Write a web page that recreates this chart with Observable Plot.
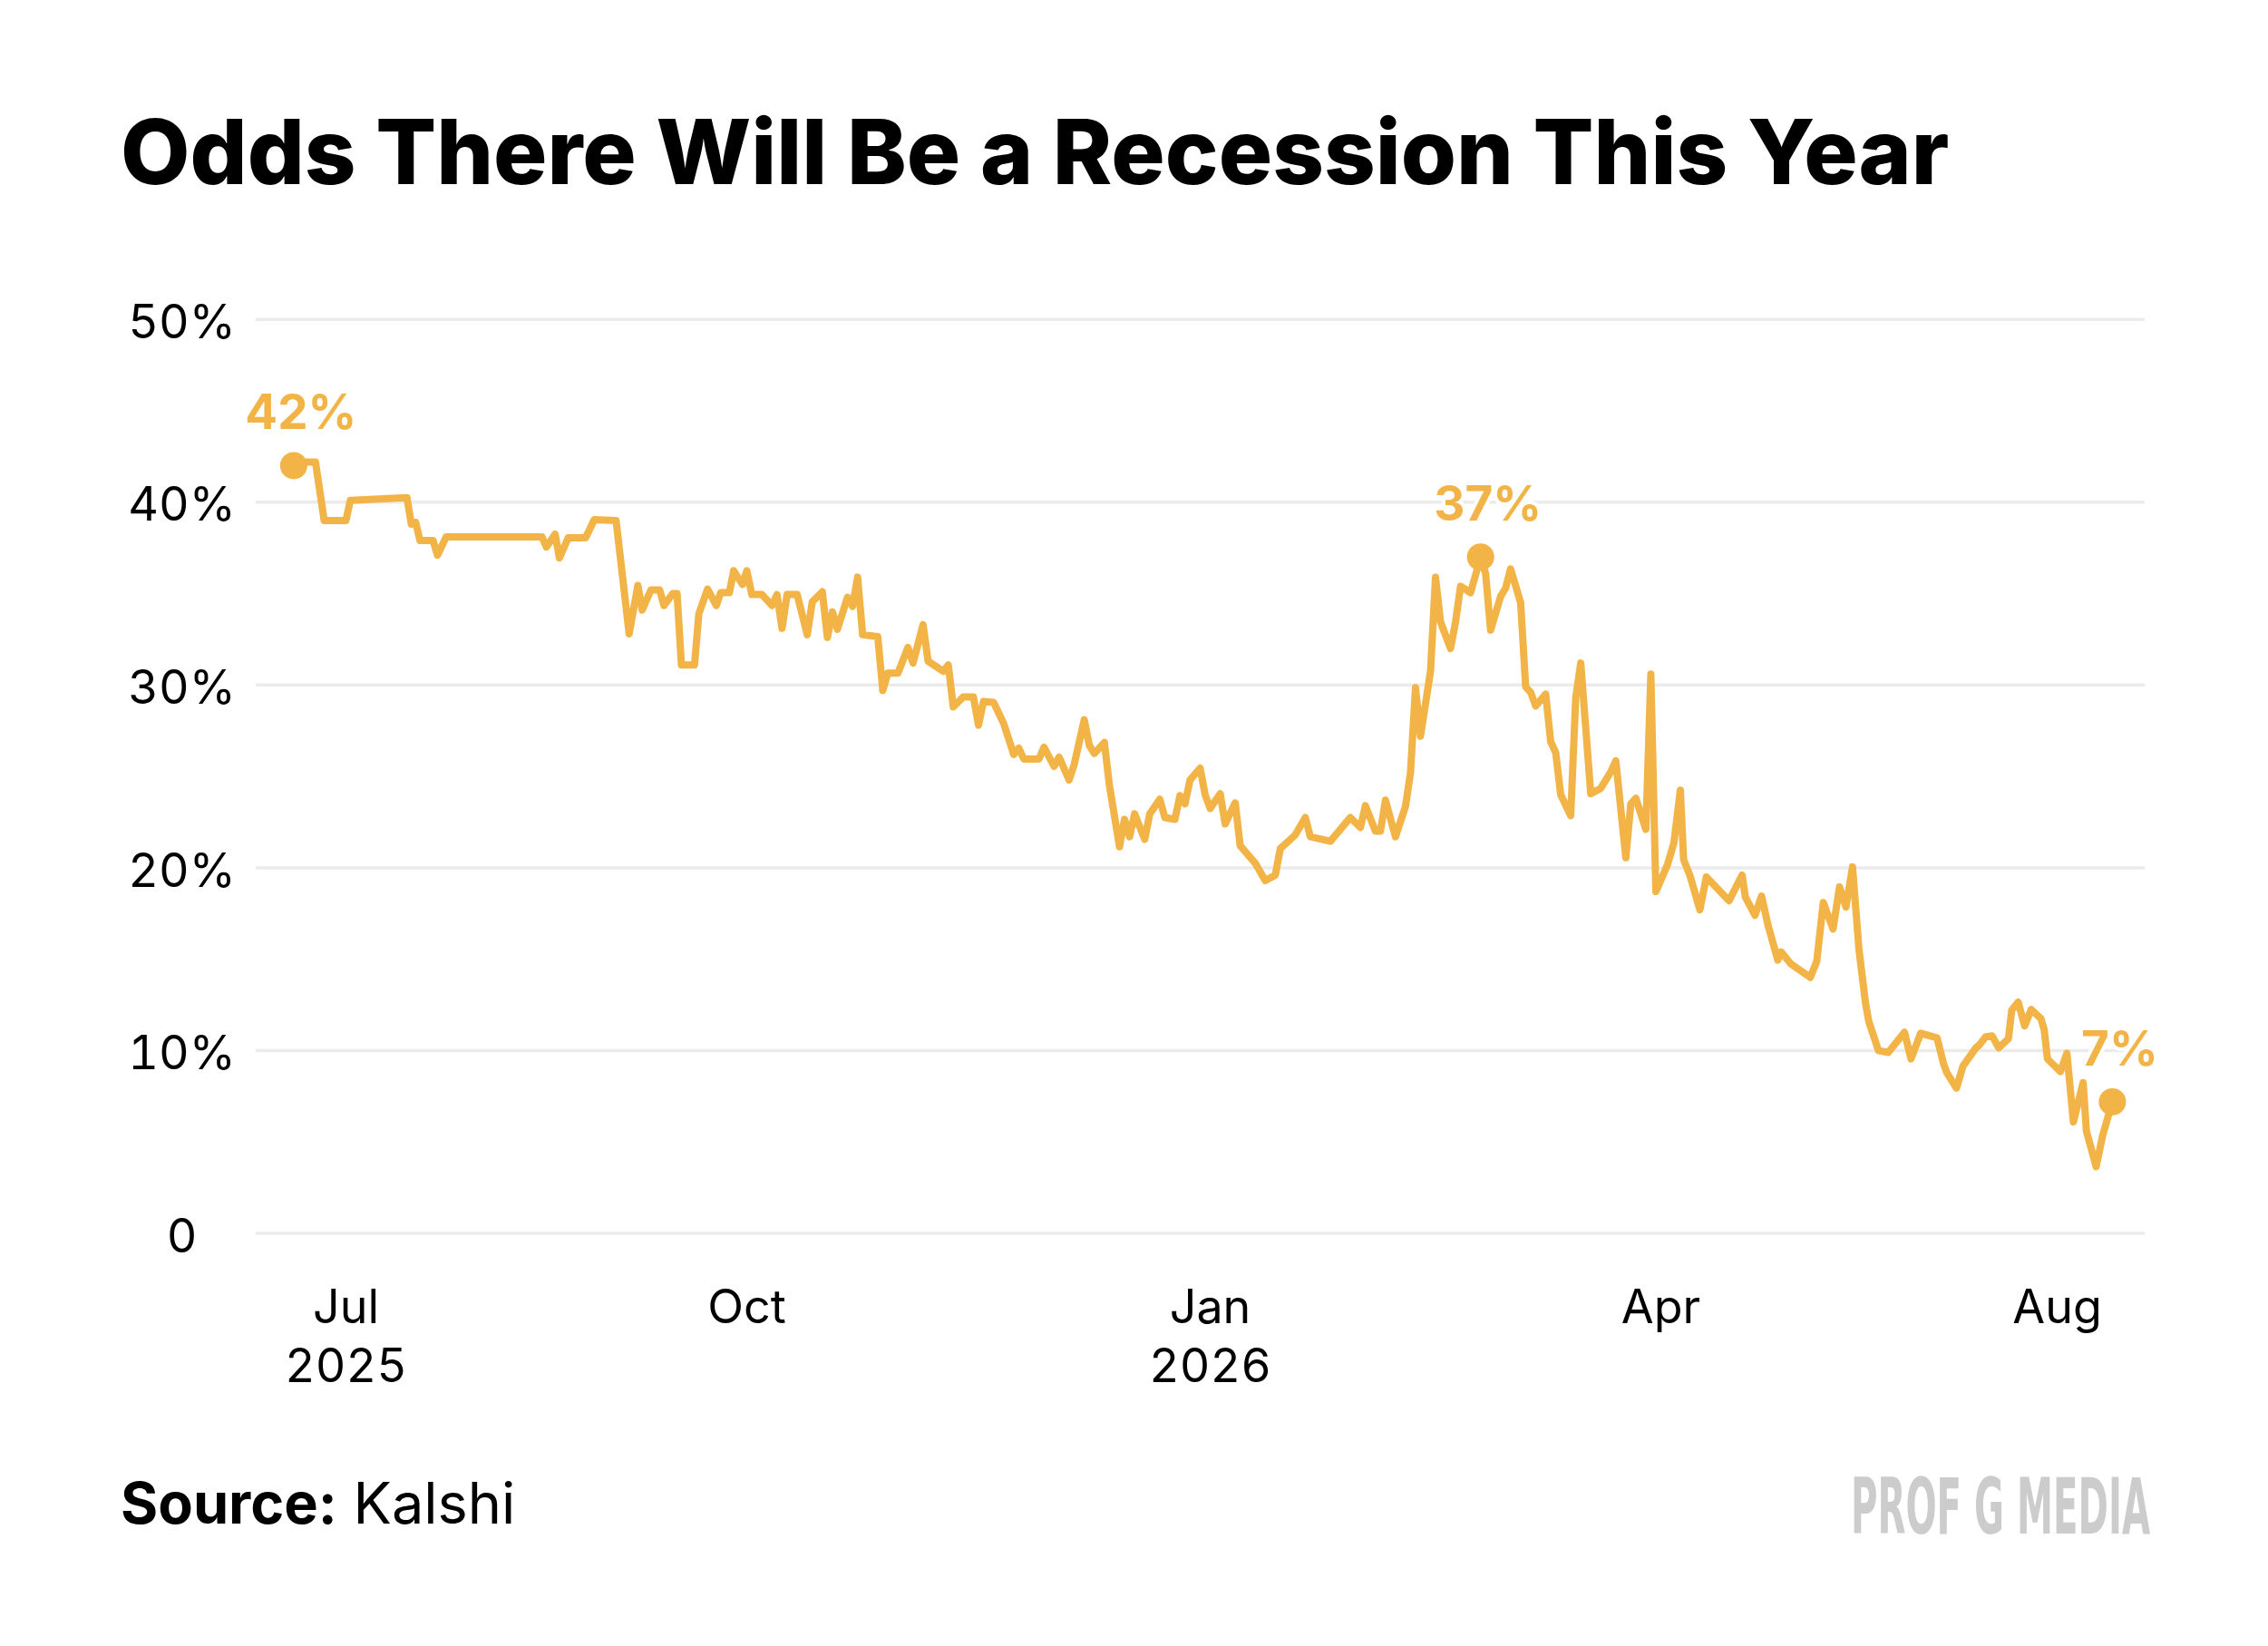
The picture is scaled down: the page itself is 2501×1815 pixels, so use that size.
<!DOCTYPE html>
<html>
<head>
<meta charset="utf-8">
<script src="https://cdn.jsdelivr.net/npm/d3@7"></script>
<script src="https://cdn.jsdelivr.net/npm/@observablehq/plot@0.6"></script>
<style>
  html, body { margin: 0; padding: 0; background: #ffffff; }
  #page { position: relative; width: 2501px; height: 1815px; overflow: hidden; font-family: Inter, "Noto Sans", sans-serif; background: #fff; }
  #title { position: absolute; left: 133px; top: 118px; margin: 0; font-size: 99px; font-weight: 800; line-height: 1; color: #000; white-space: nowrap; }
  #chart { position: absolute; left: 0; top: 260px; }
  #source { position: absolute; left: 133px; top: 1626px; font-size: 63px; line-height: 1; color: #000; white-space: nowrap; }
  #source b { font-weight: 700; }
  #logo { position: absolute; right: 130px; top: 1618px; font-family: "Liberation Sans Narrow", "DejaVu Sans Condensed", sans-serif; font-weight: 700; font-size: 86px; line-height: 1; color: #cccccc; white-space: nowrap; transform-origin: right center; }
</style>
</head>
<body>
<div id="page">
  <h1 id="title">Odds There Will Be a Recession This Year</h1>
  <div id="chart"></div>
  <div id="source"><b>Source:</b> Kalshi</div>
  <div id="logo">PROF G MEDIA</div>
</div>
<script>
// ---- data ----
const dates = [
  "2025-06-19","2025-06-22","2025-06-24","2025-06-26","2025-07-01","2025-07-02","2025-07-15","2025-07-16",
  "2025-07-17","2025-07-18","2025-07-21","2025-07-22","2025-07-24","2025-08-15","2025-08-16","2025-08-18",
  "2025-08-19","2025-08-21","2025-08-25","2025-08-27","2025-09-01","2025-09-04","2025-09-06","2025-09-07",
  "2025-09-09","2025-09-11","2025-09-12","2025-09-14","2025-09-15","2025-09-16","2025-09-19","2025-09-20",
  "2025-09-22","2025-09-24","2025-09-25","2025-09-27","2025-09-28","2025-09-30","2025-10-01","2025-10-02",
  "2025-10-04","2025-10-06","2025-10-07","2025-10-08","2025-10-09","2025-10-11","2025-10-13","2025-10-14",
  "2025-10-16","2025-10-17","2025-10-18","2025-10-19","2025-10-21","2025-10-22","2025-10-23","2025-10-24",
  "2025-10-27","2025-10-28","2025-10-29","2025-10-31","2025-11-02","2025-11-03","2025-11-05","2025-11-06",
  "2025-11-09","2025-11-10","2025-11-11","2025-11-13","2025-11-15","2025-11-16","2025-11-17","2025-11-19",
  "2025-11-21","2025-11-23","2025-11-24","2025-11-25","2025-11-28","2025-11-29","2025-12-01","2025-12-02",
  "2025-12-04","2025-12-05","2025-12-07","2025-12-08","2025-12-09","2025-12-11","2025-12-12","2025-12-14",
  "2025-12-15","2025-12-16","2025-12-17","2025-12-19","2025-12-20","2025-12-22","2025-12-23","2025-12-25",
  "2025-12-26","2025-12-27","2025-12-28","2025-12-30","2025-12-31","2026-01-01","2026-01-03","2026-01-04",
  "2026-01-06","2026-01-07","2026-01-10","2026-01-12","2026-01-14","2026-01-15","2026-01-18","2026-01-20",
  "2026-01-21","2026-01-25","2026-01-29","2026-01-31","2026-02-01","2026-02-03","2026-02-04","2026-02-05",
  "2026-02-07","2026-02-09","2026-02-10","2026-02-11","2026-02-12","2026-02-14","2026-02-15","2026-02-16",
  "2026-02-18","2026-02-19","2026-02-20","2026-02-22","2026-02-24","2026-02-25","2026-02-26","2026-02-28",
  "2026-03-01","2026-03-02","2026-03-04","2026-03-05","2026-03-06","2026-03-07","2026-03-09","2026-03-10",
  "2026-03-11","2026-03-12","2026-03-14","2026-03-15","2026-03-16","2026-03-18","2026-03-20","2026-03-22",
  "2026-03-23","2026-03-25","2026-03-26","2026-03-27","2026-03-29","2026-03-30","2026-03-31","2026-04-03",
  "2026-04-05","2026-04-07","2026-04-08","2026-04-10","2026-04-13","2026-04-15","2026-04-22","2026-04-26",
  "2026-04-27","2026-04-30","2026-05-02","2026-05-04","2026-05-07","2026-05-08","2026-05-11","2026-05-17",
  "2026-05-19","2026-05-21","2026-05-24","2026-05-26","2026-05-28","2026-05-30","2026-06-01","2026-06-03",
  "2026-06-04","2026-06-07","2026-06-10","2026-06-15","2026-06-17","2026-06-20","2026-06-25","2026-06-27",
  "2026-06-28","2026-07-01","2026-07-03","2026-07-07","2026-07-08","2026-07-10","2026-07-12","2026-07-14",
  "2026-07-17","2026-07-18","2026-07-20","2026-07-22","2026-07-24","2026-07-27","2026-07-28","2026-07-29",
  "2026-08-02","2026-08-04","2026-08-06","2026-08-09","2026-08-10","2026-08-13","2026-08-15","2026-08-18"
];
const odds = [
  42.0, 42.2, 42.2, 39.0, 39.0, 40.1, 40.25, 38.8,
  38.9, 37.9, 37.9, 37.1, 38.1, 38.1, 37.55, 38.25,
  36.95, 38.05, 38.05, 39.05, 39.0, 32.8, 35.45, 34.1,
  35.2, 35.2, 34.35, 35.0, 35.0, 31.1, 31.1, 33.9,
  35.25, 34.35, 35.05, 35.05, 36.25, 35.5, 36.25, 34.95,
  34.95, 34.35, 34.95, 33.1, 34.95, 34.95, 32.75, 34.55,
  35.1, 32.6, 34.0, 33.05, 34.8, 34.3, 35.9, 32.75,
  32.65, 29.7, 30.65, 30.65, 32.05, 31.2, 33.3, 31.3,
  30.75, 31.1, 28.8, 29.35, 29.35, 27.8, 29.1, 29.05,
  27.9, 26.2, 26.55, 25.95, 25.95, 26.6, 25.55, 26.05,
  24.8, 25.65, 28.1, 26.7, 26.25, 26.85, 24.5, 21.15,
  22.65, 21.7, 22.95, 21.55, 22.95, 23.75, 22.75, 22.65,
  23.95, 23.5, 24.8, 25.45, 24.0, 23.25, 24.05, 22.4,
  23.55, 21.2, 20.25, 19.3, 19.6, 21.05, 21.8, 22.75,
  21.7, 21.45, 22.75, 22.2, 23.4, 22.0, 22.0, 23.7,
  21.7, 23.35, 25.2, 29.85, 27.2, 30.75, 35.9, 33.45,
  32.0, 33.45, 35.4, 35.05, 37.0, 36.1, 33.0, 34.85,
  35.3, 36.35, 34.5, 29.9, 29.6, 28.85, 29.5, 26.9,
  26.3, 24.0, 22.85, 29.3, 31.2, 24.05, 24.35, 25.25,
  25.85, 20.55, 23.5, 23.8, 22.1, 30.6, 18.7, 20.15,
  21.35, 24.25, 20.45, 19.55, 17.7, 19.5, 18.2, 19.6,
  18.4, 17.4, 18.45, 16.85, 14.95, 15.4, 14.75, 14.0,
  14.9, 18.1, 16.65, 18.95, 17.85, 20.05, 15.5, 12.6,
  11.6, 10.0, 9.9, 11.0, 9.55, 10.95, 10.7, 9.3,
  8.8, 7.95, 9.15, 10.15, 10.3, 10.75, 10.8, 10.15,
  10.65, 12.2, 12.65, 11.35, 12.25, 11.75, 11.15, 9.55,
  8.85, 9.85, 6.1, 8.25, 5.6, 3.65, 5.35, 7.2
];
const highlightDates = ["2025-06-19", "2026-02-24", "2026-08-18"];
const tickDates = ["2025-07-01", "2025-10-01", "2026-01-01", "2026-04-01", "2026-08-01"];
const tickLabels = ["Jul\n2025", "Oct", "Jan\n2026", "Apr", "Aug"];
const yTicks = [0, 10, 20, 30, 40, 50];

// ---- build ----
const ORANGE = "#F2B447";
const data = dates.map((d, i) => ({key: d, date: new Date(d), odds: odds[i]}));
const highlights = data.filter(d => highlightDates.includes(d.key));
const tickTimes = tickDates.map(d => new Date(d));
const labelByTime = new Map(tickTimes.map((d, i) => [+d, tickLabels[i]]));

const chart = Plot.plot({
  width: 2501,
  height: 1300,
  marginTop: 91.7,
  marginBottom: 200.5,
  marginLeft: 282,
  marginRight: 136,
  style: {fontFamily: "Inter, 'Noto Sans', sans-serif", fontSize: "52px", color: "#000", background: "#fff", overflow: "visible"},
  x: {type: "utc", domain: tickTimes, range: [381, 823, 1334, 1831, 2268]},
  y: {domain: [0, 50]},
  marks: [
    Plot.gridY(yTicks, {stroke: "#ebebeb", strokeOpacity: 1, strokeWidth: 3.5}),
    Plot.axisY(yTicks, {tickSize: 0, tickPadding: 82, textAnchor: "middle", dy: 4, fontSize: 52,
      tickFormat: d => d === 0 ? "0" : d + "%", label: null}),
    Plot.axisX(tickTimes, {tickSize: 0, tickPadding: 52, fontSize: 52, lineHeight: 1.26,
      tickFormat: d => labelByTime.get(+d), label: null}),
    Plot.lineY(data, {x: "date", y: "odds", stroke: ORANGE, strokeWidth: 8, strokeLinejoin: "round", strokeLinecap: "round"}),
    Plot.dot(highlights, {x: "date", y: "odds", r: 15, fill: ORANGE}),
    Plot.text(highlights, {x: "date", y: "odds", text: d => Math.round(d.odds) + "%", dx: 8, dy: -40,
      lineAnchor: "bottom", textAnchor: "middle", fill: ORANGE, fontWeight: 700, fontSize: 53,
      stroke: "#fff", strokeWidth: 8, paintOrder: "stroke"})
  ]
});
document.getElementById("chart").appendChild(chart);

// fit the condensed logo wordmark to its width
const logo = document.getElementById("logo");
const w = logo.getBoundingClientRect().width;
logo.style.transform = `scaleX(${330 / w})`;
</script>
</body>
</html>
